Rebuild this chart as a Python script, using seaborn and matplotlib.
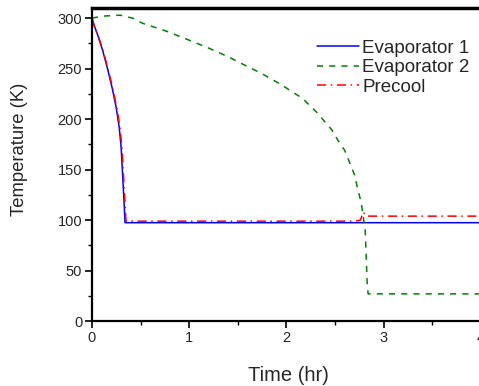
import numpy as np
import pandas as pd
import matplotlib
matplotlib.use("Agg")
import matplotlib.pyplot as plt
import seaborn as sns
from matplotlib.ticker import MultipleLocator

# Temperatures
t_evap1 = [0, 0.03, 0.06, 0.11, 0.16, 0.21, 0.25, 0.28, 0.30, 0.315, 0.33, 0.34, 0.5, 4.0]
T_evap1 = [300, 291, 283, 268, 250, 230, 211, 192, 172, 145, 118, 97.5, 97.5, 97.5]

t_evap2 = [0, 0.1, 0.29, 0.42, 0.52, 0.77, 0.98, 1.21, 1.42, 1.54, 1.75, 1.95, 2.06, 2.16,
           2.31, 2.47, 2.53, 2.60, 2.65, 2.70, 2.73, 2.77, 2.81, 2.83, 2.84, 4.0]
T_evap2 = [300, 302, 303, 300, 295, 287, 279, 270, 261, 255, 245, 234, 227, 221,
           207, 189, 179, 169, 157, 145, 132, 117, 90, 38, 27, 27]

t_precool = [0, 0.03, 0.07, 0.12, 0.17, 0.22, 0.26, 0.29, 0.31, 0.325, 0.34, 0.35, 0.4,
             2.7, 2.76, 2.79, 2.82, 4.0]
T_precool = [300, 290, 281, 266, 248, 228, 209, 190, 170, 143, 116, 99, 99,
             99, 100, 108, 104, 104]

sns.set_style("ticks")
plt.rcParams['font.family'] = ['Liberation Sans', 'DejaVu Sans']

fig = plt.figure(figsize=(4.79, 3.86), dpi=100)
ax = fig.add_axes([0.192, 0.168, 0.812, 0.811])

sns.lineplot(x=t_evap1, y=T_evap1, ax=ax, color='#0000ff', lw=1.1,
             label='Evaporator 1', sort=False, estimator=None)
sns.lineplot(x=t_evap2, y=T_evap2, ax=ax, color='#008000', lw=1.1, linestyle=(0, (4, 4)),
             label='Evaporator 2', sort=False, estimator=None)
sns.lineplot(x=t_precool, y=T_precool, ax=ax, color='#ff0000', lw=1.1,
             linestyle=(0, (6, 3, 1, 3)), label='Precool', sort=False, estimator=None)

ax.set_xlim(0, 4)
ax.set_ylim(0, 310)
ax.xaxis.set_major_locator(MultipleLocator(1))
ax.xaxis.set_minor_locator(MultipleLocator(0.5))
ax.yaxis.set_major_locator(MultipleLocator(50))
ax.yaxis.set_minor_locator(MultipleLocator(25))
ax.tick_params(which='major', direction='out', length=5, width=1.2, labelsize=10.5,
               color='black', pad=2)
ax.tick_params(which='minor', direction='out', length=3, width=1.0, color='black')

for side in ['left', 'bottom', 'right']:
    ax.spines[side].set_linewidth(1.6)
ax.spines['top'].set_linewidth(2.5)
for s in ax.spines.values():
    s.set_color('black')

ax.set_xlabel('Time (hr)', fontsize=14.5)
ax.set_ylabel('Temperature (K)', fontsize=13.3)
ax.xaxis.set_label_coords(0.506, -0.144)
ax.yaxis.set_label_coords(-0.165, 0.55)

ax.legend(loc='upper right', bbox_to_anchor=(1.0, 0.935), frameon=False, fontsize=13.5,
          handlelength=2.2, handletextpad=0.2, labelspacing=0.12, borderaxespad=0.2)

fig.savefig('out.png', dpi=100)
